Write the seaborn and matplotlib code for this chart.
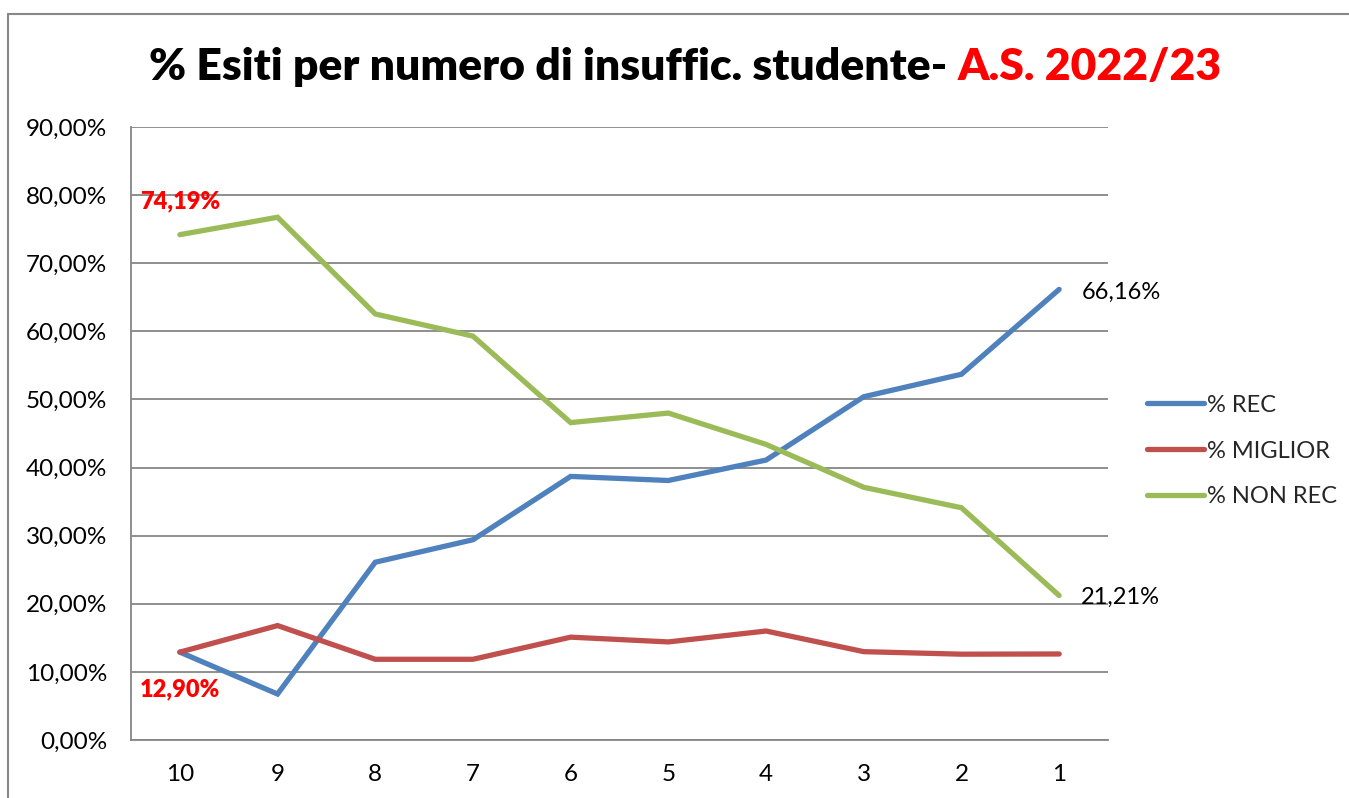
import matplotlib
matplotlib.use("Agg")
import matplotlib.pyplot as plt
import seaborn as sns
import pandas as pd
from matplotlib.lines import Line2D

categories = ["10", "9", "8", "7", "6", "5", "4", "3", "2", "1"]
rec = [12.90, 6.75, 26.1, 29.4, 38.7, 38.1, 41.1, 50.4, 53.7, 66.16]
miglior = [12.90, 16.8, 11.85, 11.85, 15.1, 14.4, 16.0, 12.97, 12.6, 12.63]
non_rec = [74.19, 76.75, 62.55, 59.3, 46.6, 48.0, 43.4, 37.1, 34.1, 21.21]
series_names = ["% REC", "% MIGLIOR", "% NON REC"]
colors = ["#4F81BD", "#C0504D", "#9BBB59"]
ytick_vals = [0, 10, 20, 30, 40, 50, 60, 70, 80, 90]

sns.set_theme(style="white")
plt.rcParams["font.family"] = ["Lato", "DejaVu Sans"]

W, H = 1349, 798
fig = plt.figure(figsize=(W / 100, H / 100), dpi=100)
ax = fig.add_axes([131 / W, 1 - 740 / H, (1108 - 131) / W, (740 - 127) / H])

pos = list(range(len(categories)))
df = pd.DataFrame({
    "pos": pos * 3,
    "val": rec + miglior + non_rec,
    "serie": [series_names[0]] * 10 + [series_names[1]] * 10 + [series_names[2]] * 10,
})
sns.lineplot(data=df, x="pos", y="val", hue="serie", palette=colors,
             hue_order=series_names, linewidth=3.8, ax=ax, legend=False,
             solid_capstyle="round", solid_joinstyle="miter")

ax.set_xlim(-0.5, len(categories) - 0.5)
ax.set_ylim(0, 90)
ax.set_xticks(pos)
ax.set_xticklabels(categories)
ax.set_yticks(ytick_vals)
ax.set_yticklabels([f"{v:.2f}".replace(".", ",") + "%" for v in ytick_vals])
ax.set_xlabel("")
ax.set_ylabel("")
ax.tick_params(axis="both", length=0, labelsize=17.5, colors="black")
ax.tick_params(axis="y", pad=17)
ax.tick_params(axis="x", pad=17)
ax.grid(axis="y", color="#868686", linewidth=1.3)
ax.set_axisbelow(True)
for s in ["top", "right"]:
    ax.spines[s].set_visible(False)
for s in ["left", "bottom"]:
    ax.spines[s].set_color("#868686")
    ax.spines[s].set_linewidth(1.3)

# data labels
ax.annotate("74,19%", (0, non_rec[0]), xytext=(0, 24), textcoords="offset points",
            ha="center", va="center", color="#FF0000", fontsize=17, fontweight="heavy")
ax.annotate("12,90%", (0, miglior[0]), xytext=(0, -27), textcoords="offset points",
            ha="center", va="center", color="#FF0000", fontsize=17, fontweight="heavy")
ax.annotate("66,16%", (9, rec[9]), xytext=(16, -2), textcoords="offset points",
            ha="left", va="center", color="black", fontsize=17)
ax.annotate("21,21%", (9, non_rec[9]), xytext=(16, -1), textcoords="offset points",
            ha="left", va="center", color="black", fontsize=17)

# legend
handles = [Line2D([0], [0], color=c, lw=3.8) for c in colors]
fig.legend(handles, series_names, loc="center left",
           bbox_to_anchor=(1147 / W, 1 - 451 / H), frameon=False, fontsize=17,
           handlelength=2.4, handletextpad=0.15, labelspacing=1.05,
           borderaxespad=0, borderpad=0)

# title (two colours)
fig.canvas.draw()
r = fig.canvas.get_renderer()
t1 = fig.text(0, 1 - 67 / H, "% Esiti per numero di insuffic. studente- ",
              fontsize=32, fontweight="heavy", color="black", va="center", ha="left")
t2 = fig.text(0, 1 - 67 / H, "A.S. 2022/23",
              fontsize=32, fontweight="heavy", color="#FF0000", va="center", ha="left")
w1 = t1.get_window_extent(r).width
w2 = t2.get_window_extent(r).width
x0 = 685 - (w1 + w2) / 2
t1.set_x(x0 / W)
t2.set_x((x0 + w1) / W)

# outer frame
fig.add_artist(Line2D([8 / W, 1], [1 - 14 / H, 1 - 14 / H], color="#888888", lw=1.5,
                      transform=fig.transFigure))
fig.add_artist(Line2D([8 / W, 8 / W], [1 - 14 / H, 0], color="#888888", lw=1.5,
                      transform=fig.transFigure))

fig.savefig("out.png", dpi=100)
